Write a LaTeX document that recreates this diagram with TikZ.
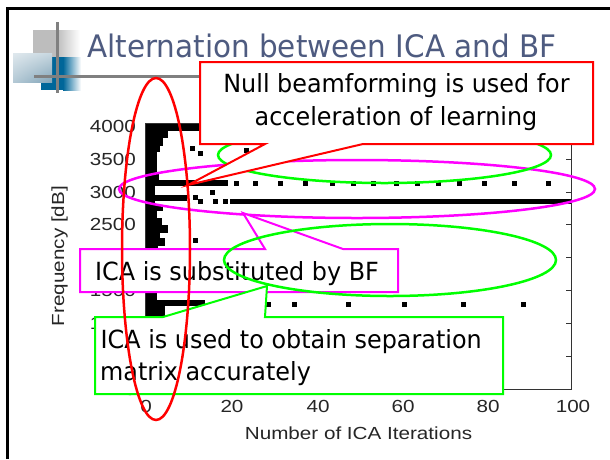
\documentclass[tikz,border=0pt]{standalone}
\usepackage{fontspec}
\newfontfamily\callfont[FakeStretch=0.955]{DejaVu Sans}
\newfontfamily\ttlfont[FakeStretch=0.95]{DejaVu Sans}
\newfontfamily\pltfont[FakeStretch=1.18]{Liberation Sans}
\definecolor{ttl}{RGB}{78,91,128}
\definecolor{logogray}{RGB}{189,189,189}
\definecolor{logoblue}{RGB}{0,102,153}
\definecolor{logolight}{RGB}{130,165,185}
\definecolor{linegray}{RGB}{128,128,128}
\definecolor{cred}{RGB}{255,0,0}
\definecolor{cmag}{RGB}{255,0,255}
\definecolor{cgreen}{RGB}{0,255,0}
\usetikzlibrary{shapes.geometric,shadings}
\begin{document}
\begin{tikzpicture}[x=1pt,y=-1pt,
  calltext/.style={inner sep=0pt, font=\callfont\fontsize{25}{30}\selectfont, text=black},
  plotlbl/.style={inner sep=0pt, font=\pltfont\fontsize{17.5}{20}\selectfont, text=black!85},
  redline/.style={draw=cred, line width=2.5pt},
  magline/.style={draw=cmag, line width=2.5pt},
  grnline/.style={draw=cgreen, line width=2.5pt},
  redbox/.style={draw=cred, fill=white, line width=2pt, line join=miter},
  magbox/.style={draw=cmag, fill=white, line width=2pt, line join=miter},
  grnbox/.style={draw=cgreen, fill=white, line width=2pt, line join=miter},
  axisline/.style={draw=black!80, line width=1pt}
]
\useasboundingbox (0,0) rectangle (610,459);
\fill[white] (0,0) rectangle (610,459);
% frame
\draw[line width=3pt] (7,459) -- (7,8.5) -- (610,8.5);

% logo
\fill[logogray] (33,30) rectangle (57,58);
\shade[left color=logogray, right color=white] (57,30) rectangle (80,58);
\fill[logoblue] (41,57) rectangle (63,90);
\shade[left color=logoblue, right color=white] (63,57) rectangle (81,90);
\shade[upper left=logolight!25!white, upper right=logolight!45!white, lower left=logolight!60!white, lower right=logolight] (13,53) rectangle (52,82);
\draw[linegray, line width=3pt] (57.5,22) -- (57.5,93);
\draw[linegray, line width=3pt] (34,76) -- (200,76);

% title
\node[anchor=base west, inner sep=0pt, text=ttl, font=\ttlfont\fontsize{31}{36}\selectfont] (title) at (87,57) {Alternation between ICA and BF};

% plot data: left band
\foreach \xa/\ya/\yb in {203/123/131, 168/131/138, 163/138/146, 160/146/152, 157/152/172, 159/172/180,
  228/180/186, 155/186/195, 187/195/201, 155/201/205, 163/205/211, 157/211/218, 162/218/225,
  168/225/233, 160/233/238, 165/238/246, 158/246/260, 163/260/280, 157/280/300, 205/300/306,
  165/306/316, 158/316/389}
  \fill[black] (145,\ya) rectangle (\xa,\yb);
% thick line around 2850
\fill[black] (230,198.5) rectangle (571,204);
% scattered points
\foreach \px/\py in {192/148, 200/153, 246/150,
  236/183, 255/183, 280/183, 305/183, 332/183, 353/183, 373/183, 396/183, 417/183, 438/183,
  459/183, 484/183, 514/183, 548/183,
  212/192, 195/197, 200/201, 215/201, 225/201, 195/240,
  268/304, 294/304, 348/304, 404/304, 463/304, 523/304}
  \fill[black] (\px-2.5,\py-2.5) rectangle (\px+2.5,\py+2.5);

% axes box
\draw[axisline] (145,123) rectangle (571,389);
\foreach \ty in {159.2,192,224.9,257.7,290.5,323.4,356.2}
  \draw[axisline] (571,\ty) -- (566,\ty);
\foreach \tx in {232,318,403,488}
  \draw[axisline] (\tx,389) -- (\tx,384);

% tick labels
\foreach \f/\ty in {4000/126.4, 3500/159.2, 3000/192, 2500/224.9, 2000/257.7, 1500/290.5, 1000/323.4, 500/356.2, 0/389}
  \node[plotlbl, anchor=east] at (136,\ty) {\f};
\foreach \v/\tx in {0/146, 20/232, 40/318, 60/403, 80/488, 100/573}
  \node[plotlbl, anchor=base] at (\tx,412) {\v};
\node[plotlbl, anchor=base] (xlab) at (358.5,439) {Number of ICA Iterations};
\node[plotlbl, anchor=base, rotate=90] (ylab) at (64,256) {Frequency [dB]};

% ellipses behind red callout
\draw[magline] (357,189) ellipse [x radius=238pt, y radius=29pt];
\draw[grnline] (384.5,155) ellipse [x radius=166.5pt, y radius=28pt];

% red callout
\draw[redbox] (200,62) -- (593,62) -- (593,144) -- (363,144) -- (188,185) -- (265,144) -- (200,144) -- cycle;
\node[calltext, anchor=base] (r1) at (396.5,92) {Null beamforming is used for};
\node[calltext, anchor=base] (r2) at (396,125) {acceleration of learning};

% magenta callout
\draw[magbox] (80,249) -- (265,249) -- (243,213) -- (343,249) -- (398,249) -- (398,292) -- (80,292) -- cycle;
\node[calltext, anchor=base west] (m1) at (95,280) {ICA is substituted by BF};

% green callout
\draw[grnbox] (95,317) -- (163,317) -- (267,286) -- (265,317) -- (503,317) -- (503,394) -- (95,394) -- cycle;
\node[calltext, anchor=base west] (g1) at (100.5,348) {ICA is used to obtain separation};
\node[calltext, anchor=base west] (g2) at (100,380) {matrix accurately};

% lower green ellipse
\draw[grnline] (390,260) ellipse [x radius=166pt, y radius=36pt];

% red ellipse
\draw[redline] (156,249) ellipse [x radius=34pt, y radius=171pt];
\end{tikzpicture}
\end{document}
